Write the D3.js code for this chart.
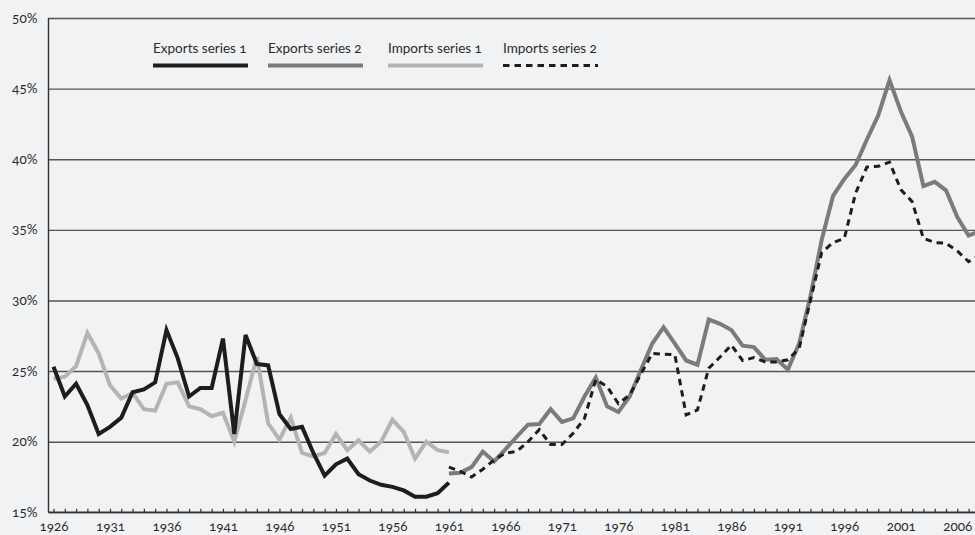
<head>
    <meta charset="utf-8">
    <style>
        body { margin: 0; background: #f1f2f4; }
        svg text { font-family: Lato, "Open Sans", sans-serif; font-variant-numeric: oldstyle-nums; font-feature-settings: "onum"; fill: #2b2b2b; }
        .ax path { display: none; }
    </style>
    <script src="https://d3js.org/d3.v7.min.js"></script>
</head>
<body>
    <div id="chart"></div>
    <script>
        // values (% )
        var startOld = 1926,
            startNew = 1961;

        var exports1 = [25.3, 23.2, 24.1, 22.6, 20.55, 21.05, 21.7, 23.5, 23.7, 24.2,
            27.9, 25.9, 23.2, 23.8, 23.8, 27.3, 20.55, 27.55, 25.5, 25.4,
            21.95, 20.9, 21.05, 19.2, 17.6, 18.4, 18.8, 17.7, 17.25, 16.95,
            16.8, 16.55, 16.1, 16.1, 16.35, 17.1];

        var imports1 = [24.45, 24.6, 25.35, 27.7, 26.25, 24.0, 23.05, 23.45, 22.3, 22.2,
            24.1, 24.2, 22.5, 22.3, 21.8, 22.05, 20.0, 22.95, 26.0, 21.3,
            20.15, 21.7, 19.2, 18.95, 19.2, 20.55, 19.4, 20.1, 19.3, 20.0,
            21.55, 20.7, 18.8, 20.0, 19.4, 19.25];

        var exports2 = [17.75, 17.8, 18.2, 19.3, 18.6, 19.45, 20.35, 21.2, 21.25, 22.3,
            21.4, 21.65, 23.2, 24.55, 22.5, 22.1, 23.2, 25.1, 26.95, 28.1,
            26.95, 25.75, 25.45, 28.65, 28.35, 27.9, 26.8, 26.7, 25.8, 25.85,
            25.1, 26.95, 30.3, 34.3, 37.4, 38.6, 39.6, 41.4, 43.1, 45.6,
            43.4, 41.6, 38.1, 38.4, 37.8, 35.9, 34.6, 34.9];

        var imports2 = [18.2, 17.9, 17.5, 18.05, 18.7, 19.2, 19.3, 20.0, 20.85, 19.8,
            19.8, 20.6, 21.65, 24.4, 23.9, 22.7, 23.3, 24.8, 26.25, 26.2,
            26.15, 21.9, 22.25, 25.2, 26.0, 26.85, 25.75, 25.95, 25.65, 25.65,
            25.8, 26.6, 30.0, 33.4, 34.1, 34.4, 37.6, 39.45, 39.5, 39.8,
            37.85, 37.0, 34.4, 34.1, 34.05, 33.5, 32.75, 33.2];

        var yTicks = [15, 20, 25, 30, 35, 40, 45, 50];
        var labelYears = [1926, 1931, 1936, 1941, 1946, 1951, 1956, 1961, 1966, 1971, 1976, 1981, 1986, 1991, 1996, 2001, 2006];

        var legendItems = [
            { name: "Exports series 1", color: "#1d1d1b", width: 4, dash: null },
            { name: "Exports series 2", color: "#7b7b7b", width: 4, dash: null },
            { name: "Imports series 1", color: "#b4b4b4", width: 4, dash: null },
            { name: "Imports series 2", color: "#1d1d1b", width: 3, dash: "6.5,5" }
        ];

        var W = 975, H = 535;
        var plotLeft = 48.5, plotTop = 18, plotBottom = 512.3;

        var svg = d3.select("#chart").append("svg")
            .attr("width", W)
            .attr("height", H);

        svg.append("rect").attr("width", W).attr("height", H).attr("fill", "#f1f2f4");

        var x = d3.scaleLinear().domain([1926, 2006]).range([53.5, 957.3]);
        var y = d3.scaleLinear().domain([15, 50]).range([plotBottom, plotTop]);

        // grid + y labels
        var yAx = svg.append("g")
            .attr("class", "ax")
            .attr("transform", `translate(${plotLeft},0)`)
            .call(d3.axisLeft(y).tickValues(yTicks).tickSize(-(W - plotLeft)).tickPadding(11).tickFormat(d => d + "%"));
        yAx.selectAll("line").attr("stroke", "#555").attr("stroke-width", 1.4);
        yAx.selectAll("text").attr("font-size", 13.5).attr("dy", "0.3em");

        // left axis line
        svg.append("line")
            .attr("x1", plotLeft).attr("x2", plotLeft)
            .attr("y1", plotTop).attr("y2", plotBottom)
            .attr("stroke", "#333").attr("stroke-width", 1.4);

        // x axis, a small tick for every year
        var allYears = d3.range(1926, 2009);
        var xAx = svg.append("g")
            .attr("class", "ax")
            .attr("transform", `translate(0,${plotBottom})`)
            .call(d3.axisBottom(x).tickValues(allYears).tickSize(-3.5).tickPadding(9.5)
                .tickFormat(d => labelYears.indexOf(d) >= 0 ? d : ""));
        xAx.selectAll("line").attr("stroke", "#333").attr("stroke-width", 1.2);
        xAx.selectAll("text").attr("font-size", 13.5);

        svg.append("line")
            .attr("x1", plotLeft).attr("x2", W)
            .attr("y1", plotBottom).attr("y2", plotBottom)
            .attr("stroke", "#333").attr("stroke-width", 1.6);

        var line = d3.line()
            .x(d => x(d.year))
            .y(d => y(d.value));

        function series(vals, start) {
            return vals.map((v, i) => ({ year: start + i, value: v }));
        }

        var lines = [
            { data: series(imports1, startOld), st: legendItems[2] },
            { data: series(exports1, startOld), st: legendItems[0] },
            { data: series(exports2, startNew), st: legendItems[1] },
            { data: series(imports2, startNew), st: legendItems[3] }
        ];

        lines.forEach(function(l) {
            svg.append("path")
                .datum(l.data)
                .attr("d", line)
                .attr("fill", "none")
                .attr("stroke", l.st.color)
                .attr("stroke-width", l.st.width)
                .attr("stroke-dasharray", l.st.dash)
                .attr("stroke-linejoin", "miter");
        });

        // legend
        var legX = [153, 268, 388, 503];
        var leg = svg.append("g");
        legendItems.forEach(function(d, i) {
            leg.append("text")
                .attr("x", legX[i])
                .attr("y", 52.5)
                .attr("font-size", 13.5)
                .text(d.name);
            leg.append("line")
                .attr("x1", legX[i]).attr("x2", legX[i] + 95)
                .attr("y1", 65.5).attr("y2", 65.5)
                .attr("stroke", d.color)
                .attr("stroke-width", d.width)
                .attr("stroke-dasharray", d.dash);
        });
    </script>
</body>
